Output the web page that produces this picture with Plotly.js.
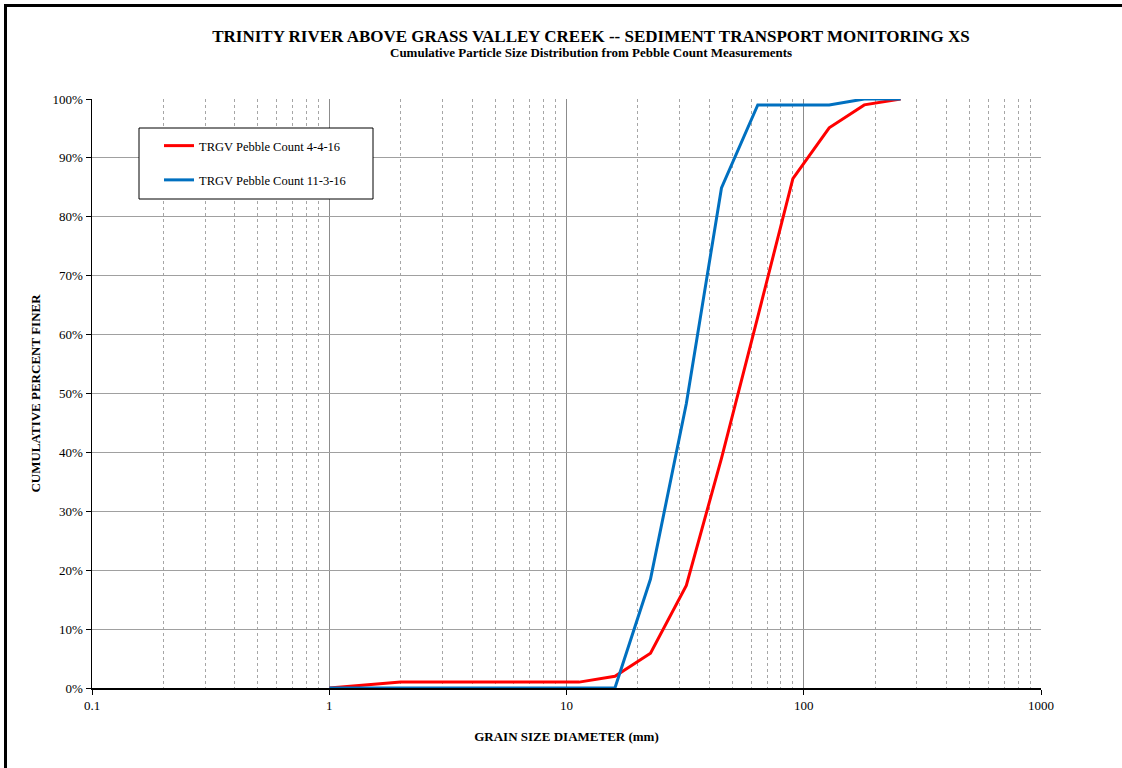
<!DOCTYPE html>
<html>
<head>
<meta charset="utf-8">
<script src="https://cdn.plot.ly/plotly-3.0.1.min.js"></script>
<style>
  html, body { margin:0; padding:0; background:#fff; overflow:hidden; }
  #frame { position:absolute; left:4px; top:4px; width:1300px; height:900px;
           border-top:3px solid #000; border-left:3px solid #000; pointer-events:none; z-index:5; }
  #chart { position:absolute; left:0; top:0; width:1122px; height:768px; }
</style>
</head>
<body>
<div id="chart"></div>
<div id="frame"></div>
<script>
// Grain size (mm)
const grainSizes = [1, 2, 4, 5.6, 8, 11.3, 16, 22.6, 32, 45, 64, 90, 128, 180, 256];
// Cumulative percent finer
const count_4_4_16  = [0, 1, 1, 1, 1, 1, 2, 5.9, 17.4, 39, 63, 86.5, 95.1, 99, 100];
const count_11_3_16 = [0, 0, 0, 0, 0, 0, 0, 18.5, 48.3, 84.9, 99, 99, 99, 100, 100];
const seriesNames = ['TRGV Pebble Count 4-4-16', 'TRGV Pebble Count 11-3-16'];
const xTickVals = [0.1, 1, 10, 100, 1000];
const xTickText = ['0.1', '1', '10', '100', '1000'];

const serif = '"Liberation Serif", "Times New Roman", serif';

// plot-area pixel frame, used to place layout decorations in paper units
const PL = 92, PR = 1041, PT = 99, PB = 688;
const px = v => (v - PL) / (PR - PL);
const py = v => (PB - v) / (PB - PT);

const traces = [
  { x: grainSizes, y: count_4_4_16, name: seriesNames[0], mode: 'lines', legendgroup: 'a',
    line: { color: '#FF0000', width: 3 } },
  { x: grainSizes, y: count_11_3_16, name: seriesNames[1], mode: 'lines', legendgroup: 'b',
    line: { color: '#0070C0', width: 3 } }
];

const layout = {
  width: 1122, height: 768,
  paper_bgcolor: '#fff', plot_bgcolor: '#fff',
  margin: { l: PL, r: 1122 - PR, t: PT, b: 768 - PB },
  font: { family: serif, color: '#000', size: 12 },
  showlegend: true,
  hovermode: false,
  title: {
    text: '<b>TRINITY RIVER ABOVE GRASS VALLEY CREEK -- SEDIMENT TRANSPORT MONITORING XS</b>',
    font: { family: serif, size: 17, color: '#000' },
    x: px(591), xref: 'paper', xanchor: 'center',
    y: 1 - 36 / 768, yref: 'container', yanchor: 'middle'
  },
  annotations: [
    { text: '<b>Cumulative Particle Size Distribution from Pebble Count Measurements</b>',
      xref: 'paper', yref: 'paper', x: px(591), y: py(52),
      xanchor: 'center', yanchor: 'middle', showarrow: false,
      font: { family: serif, size: 13, color: '#000' } }
  ],
  shapes: [
    { type: 'rect', xref: 'paper', yref: 'paper', layer: 'above',
      x0: px(139), x1: px(373), y0: py(199), y1: py(128),
      fillcolor: '#fff', line: { color: '#000', width: 1 } }
  ],
  xaxis: {
    type: 'log', range: [-1, 3],
    tickmode: 'array', tickvals: xTickVals, ticktext: xTickText,
    ticks: 'outside', ticklen: 5, tickcolor: '#000', tickwidth: 1,
    showline: true, linecolor: '#000', linewidth: 1.5,
    showgrid: true, gridcolor: '#8c8c8c', gridwidth: 1,
    minor: { dtick: 'D1', showgrid: true, gridcolor: '#a6a6a6', griddash: 'dot', gridwidth: 1, ticks: '' },
    tickfont: { family: serif, size: 13, color: '#000' },
    zeroline: false,
    title: { text: '<b>GRAIN SIZE DIAMETER (mm)</b>', font: { family: serif, size: 13, color: '#000' }, standoff: 20 }
  },
  yaxis: {
    range: [0, 100], dtick: 10, ticksuffix: '%',
    ticks: 'outside', ticklen: 5, tickcolor: '#000', tickwidth: 1,
    showline: true, linecolor: '#000', linewidth: 1.5,
    showgrid: true, gridcolor: '#a0a0a0', gridwidth: 1,
    tickfont: { family: serif, size: 13, color: '#000' },
    zeroline: false,
    title: { text: '<b>CUMULATIVE PERCENT FINER</b>', font: { family: serif, size: 13, color: '#000' }, standoff: 9 }
  },
  legend: {
    x: px(159), y: py(131), xanchor: 'left', yanchor: 'top',
    bgcolor: 'rgba(0,0,0,0)', borderwidth: 0,
    font: { family: serif, size: 12.5, color: '#000' },
    traceorder: 'grouped', tracegroupgap: 15,
    itemwidth: 30
  }
};

Plotly.newPlot('chart', traces, layout, { staticPlot: true, displayModeBar: false });
</script>
</body>
</html>
